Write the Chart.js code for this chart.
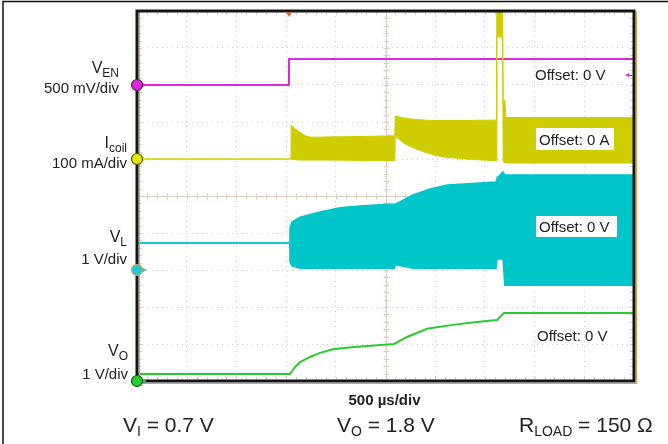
<!DOCTYPE html>
<html>
<head>
<meta charset="utf-8">
<script src="https://cdn.jsdelivr.net/npm/chart.js@4.4.1/dist/chart.umd.min.js"></script>
<style>
  html, body { margin: 0; padding: 0; background: #fff; }
  #wrap { width: 668px; height: 444px; }
</style>
</head>
<body>
<div id="wrap"><canvas id="scope" width="668" height="444"></canvas></div>
<script>
// time base: 500 us/div, 10 div
const timeMin = 0;
const timeMax = 5000;

// channel screen position (div) and scale (unit per div)
const chEN = { pos: 8, perDiv: 0.5 };    // V
const chCoil = { pos: 6, perDiv: 100 };  // mA
const chVL = { pos: 3, perDiv: 1 };      // V
const chVO = { pos: 0, perDiv: 1 };      // V

// V_EN (V)
const enTime = [0, 1529, 1529, 5000];
const enVolts = [0, 0, 0.35, 0.35];

// I_coil switching envelope (mA)
const coilTime = [0, 1549, 1551, 1600, 1650, 1700, 1750, 1800, 2000, 2300,
  2594, 2598, 2650, 2700, 2800, 2900, 3000, 3100, 3300, 3500,
  3614, 3620, 3678, 3684, 3700, 3712, 4000, 4500, 5000];
const coilHigh = [0, 0, 91, 80, 70, 62, 59, 59, 60, 61,
  63, 116, 113, 110, 107, 105, 104, 104, 104, 105,
  105, 420, 420, 150, 160, 112, 112, 112, 112];
const coilLow = [0, 0, 0, -2, -3, -3, -3, -3, -3, -4,
  -4, 62, 50, 40, 28, 18, 10, 5, 0, -3,
  -5, 330, 330, -8, -10, -11, -11, -11, -11];

// V_L switching envelope (V)
const vlTime = [0, 1537, 1539, 1559, 1640, 1841, 2042, 2243, 2515, 2590,
  2600, 2777, 2948, 3119, 3451, 3612, 3622, 3682, 3700, 3705, 5000];
const vlHigh = [0.73, 0.73, 1.14, 1.30, 1.43, 1.57, 1.68, 1.73, 1.78, 1.78,
  1.78, 2.03, 2.19, 2.30, 2.35, 2.38, 2.49, 2.65, 2.57, 2.57, 2.57];
const vlLow = [0.73, 0.73, 0.22, 0.11, 0.05, 0.05, 0.05, 0.05, 0.05, 0.05,
  0.14, 0.05, 0.05, 0.05, 0.05, 0.05, 0.30, 0.30, -0.41, -0.41, -0.41];

// V_O (V)
const voTime = [0, 1539, 1590, 1640, 1740, 1841, 1972, 2183, 2586, 2716, 2918, 3159, 3390, 3622, 3692, 5000];
const voVolts = [0.19, 0.19, 0.38, 0.51, 0.65, 0.76, 0.86, 0.92, 1.00, 1.19, 1.41, 1.51, 1.59, 1.65, 1.84, 1.84];

const colEN = "#dc28dc";
const colCoil = "#cdcd00";
const colVL = "#00c6ca";
const colVO = "#26cc30";

function toPoints(times, values, ch) {
  return times.map((t, i) => ({ x: t, y: ch.pos + values[i] / ch.perDiv }));
}

const font = '"Liberation Sans", Arial, sans-serif';

// text with subscript parts: [[text, size, dy], ...]
function drawParts(ctx, parts, x, y, align) {
  let w = 0;
  parts.forEach(p => { ctx.font = p[1] + "px " + font; w += ctx.measureText(p[0]).width; });
  let cx = align === "right" ? x - w : x;
  parts.forEach(p => {
    ctx.font = p[1] + "px " + font;
    ctx.fillText(p[0], cx, y + (p[2] || 0));
    cx += ctx.measureText(p[0]).width;
  });
}

function marker(ctx, x, y, fill, ring) {
  ctx.fillStyle = fill;
  ctx.beginPath();
  ctx.moveTo(x + 4, y - 3);
  ctx.lineTo(x + 10, y);
  ctx.lineTo(x + 4, y + 3);
  ctx.fill();
  ctx.beginPath();
  ctx.arc(x, y, 5.5, 0, Math.PI * 2);
  ctx.fill();
  ctx.lineWidth = 1.2;
  ctx.strokeStyle = ring;
  ctx.stroke();
}

const scopeFrame = {
  id: "scopeFrame",
  beforeDatasetsDraw(chart) {
    const { ctx, chartArea: a, scales: { x, y } } = chart;
    const cx = Math.round(x.getPixelForValue(2500)) + 0.5;
    const cy = Math.round(y.getPixelForValue(5)) + 0.5;
    ctx.save();
    ctx.strokeStyle = "#d8cebf";
    ctx.lineWidth = 1;
    ctx.beginPath();
    ctx.moveTo(a.left, cy); ctx.lineTo(a.right, cy);
    ctx.moveTo(cx, a.top); ctx.lineTo(cx, a.bottom);
    // minor ticks, 5 per div
    for (let t = 0; t <= timeMax; t += 100) {
      const px = Math.round(x.getPixelForValue(t)) + 0.5;
      ctx.moveTo(px, cy - 3); ctx.lineTo(px, cy + 3);
      ctx.moveTo(px, a.top); ctx.lineTo(px, a.top + 4);
      ctx.moveTo(px, a.bottom); ctx.lineTo(px, a.bottom - 4);
    }
    for (let d = 0; d <= 50; d++) {
      const py = Math.round(y.getPixelForValue(d / 5)) + 0.5;
      ctx.moveTo(cx - 3, py); ctx.lineTo(cx + 3, py);
      ctx.moveTo(a.left, py); ctx.lineTo(a.left + 5, py);
      ctx.moveTo(a.right, py); ctx.lineTo(a.right - 4, py);
    }
    ctx.stroke();
    ctx.restore();
  },
  afterDatasetsDraw(chart) {
    const { ctx, chartArea: a, scales: { x, y } } = chart;
    ctx.save();

    // outer page frame
    ctx.strokeStyle = "#111";
    ctx.lineWidth = 1.5;
    ctx.beginPath();
    ctx.moveTo(3, 444); ctx.lineTo(3, 1.5); ctx.lineTo(668, 1.5);
    ctx.stroke();

    // scope graticule frame with orange edge
    ctx.strokeStyle = "#d9a35a";
    ctx.lineWidth = 1.2;
    ctx.beginPath();
    ctx.moveTo(a.left + 2.5, a.top); ctx.lineTo(a.left + 2.5, a.bottom);
    ctx.moveTo(a.left, a.bottom + 2.5); ctx.lineTo(a.right + 2.5, a.bottom + 2.5);
    ctx.lineTo(a.right + 2.5, a.top);
    ctx.stroke();
    ctx.strokeStyle = "#151515";
    ctx.lineWidth = 3;
    ctx.strokeRect(a.left, a.top, a.right - a.left, a.bottom - a.top);

    // trigger marker
    const tx = x.getPixelForValue(enTime[1]);
    ctx.fillStyle = "#e0603a";
    ctx.beginPath();
    ctx.moveTo(tx - 3, a.top + 1); ctx.lineTo(tx + 3, a.top + 1); ctx.lineTo(tx, a.top + 6);
    ctx.fill();

    // channel ground markers
    marker(ctx, a.left, y.getPixelForValue(chEN.pos), colEN, "#5a1a5a");
    marker(ctx, a.left, y.getPixelForValue(chCoil.pos), "#e6e600", "#55550a");
    marker(ctx, a.left, y.getPixelForValue(chVL.pos), "#22c8d8", "#d9a35a");
    marker(ctx, a.left, y.getPixelForValue(chVO.pos), colVO, "#1a551a");

    // EN offset arrow on right
    ctx.fillStyle = colEN;
    ctx.strokeStyle = colEN;
    ctx.lineWidth = 1;
    ctx.beginPath();
    ctx.moveTo(625, 75); ctx.lineTo(629, 73); ctx.lineTo(629, 77); ctx.fill();
    ctx.beginPath(); ctx.moveTo(628, 75.5); ctx.lineTo(632, 75.5); ctx.stroke();

    // offset labels
    ctx.fillStyle = "#fff";
    ctx.fillRect(536, 128, 78, 22);
    ctx.fillRect(536, 216, 81, 21);
    ctx.fillStyle = "#222";
    ctx.textBaseline = "alphabetic";
    ctx.font = "15px " + font;
    ctx.fillText("Offset: 0 V", 535, 80);
    ctx.fillText("Offset: 0 A", 539, 145);
    ctx.fillText("Offset: 0 V", 539, 232);
    ctx.fillText("Offset: 0 V", 537, 341);

    // channel labels
    drawParts(ctx, [["V", 16], ["EN", 12, 4]], 119, 73, "right");
    drawParts(ctx, [["500 mV/div", 15]], 119, 93, "right");
    drawParts(ctx, [["I", 16], ["coil", 12, 4]], 127, 148, "right");
    drawParts(ctx, [["100 mA/div", 15]], 127, 168, "right");
    drawParts(ctx, [["V", 16], ["L", 12, 4]], 127, 242, "right");
    drawParts(ctx, [["1 V/div", 15]], 127, 264, "right");
    drawParts(ctx, [["V", 16], ["O", 12, 4]], 128, 356, "right");
    drawParts(ctx, [["1 V/div", 15]], 128, 379, "right");

    // time base
    ctx.font = "bold 15px " + font;
    ctx.textAlign = "center";
    ctx.fillText("500 \u00b5s/div", x.getPixelForValue(2500) - 1, 405);
    ctx.textAlign = "left";

    // conditions
    drawParts(ctx, [["V", 21], ["I", 14, 4], [" = 0.7 V", 21]], 123, 432, "left");
    drawParts(ctx, [["V", 21], ["O", 14, 4], [" = 1.8 V", 21]], 337, 432, "left");
    drawParts(ctx, [["R", 21], ["LOAD", 14, 4], [" = 150 \u03a9", 21]], 519, 432, "left");

    ctx.restore();
  }
};

const gridOpts = { color: "#cfcfcf", lineWidth: 1, drawTicks: false };
const borderOpts = { display: false, dash: [1, 4] };

new Chart(document.getElementById("scope"), {
  type: "line",
  data: {
    datasets: [
      { data: toPoints(coilTime, coilHigh, chCoil), borderColor: colCoil, borderWidth: 1, fill: false },
      { data: toPoints(coilTime, coilLow, chCoil), borderColor: colCoil, borderWidth: 1, fill: "-1", backgroundColor: colCoil },
      { data: toPoints(enTime, enVolts, chEN), borderColor: colEN, borderWidth: 2, fill: false },
      { data: toPoints(vlTime, vlHigh, chVL), borderColor: colVL, borderWidth: 1.5, fill: false },
      { data: toPoints(vlTime, vlLow, chVL), borderColor: colVL, borderWidth: 1.5, fill: "-1", backgroundColor: colVL },
      { data: toPoints(voTime, voVolts, chVO), borderColor: colVO, borderWidth: 2, fill: false }
    ]
  },
  options: {
    responsive: false,
    animation: false,
    events: [],
    layout: { padding: { left: 137, right: 34, top: 11, bottom: 63 } },
    plugins: { legend: { display: false }, tooltip: { enabled: false } },
    elements: { point: { radius: 0 }, line: { tension: 0 } },
    scales: {
      x: {
        type: "linear", min: timeMin, max: timeMax,
        ticks: { display: false, stepSize: 500 },
        grid: gridOpts, border: borderOpts
      },
      y: {
        type: "linear", min: 0, max: 10,
        ticks: { display: false, stepSize: 1 },
        grid: gridOpts, border: borderOpts
      }
    }
  },
  plugins: [scopeFrame]
});
</script>
</body>
</html>
